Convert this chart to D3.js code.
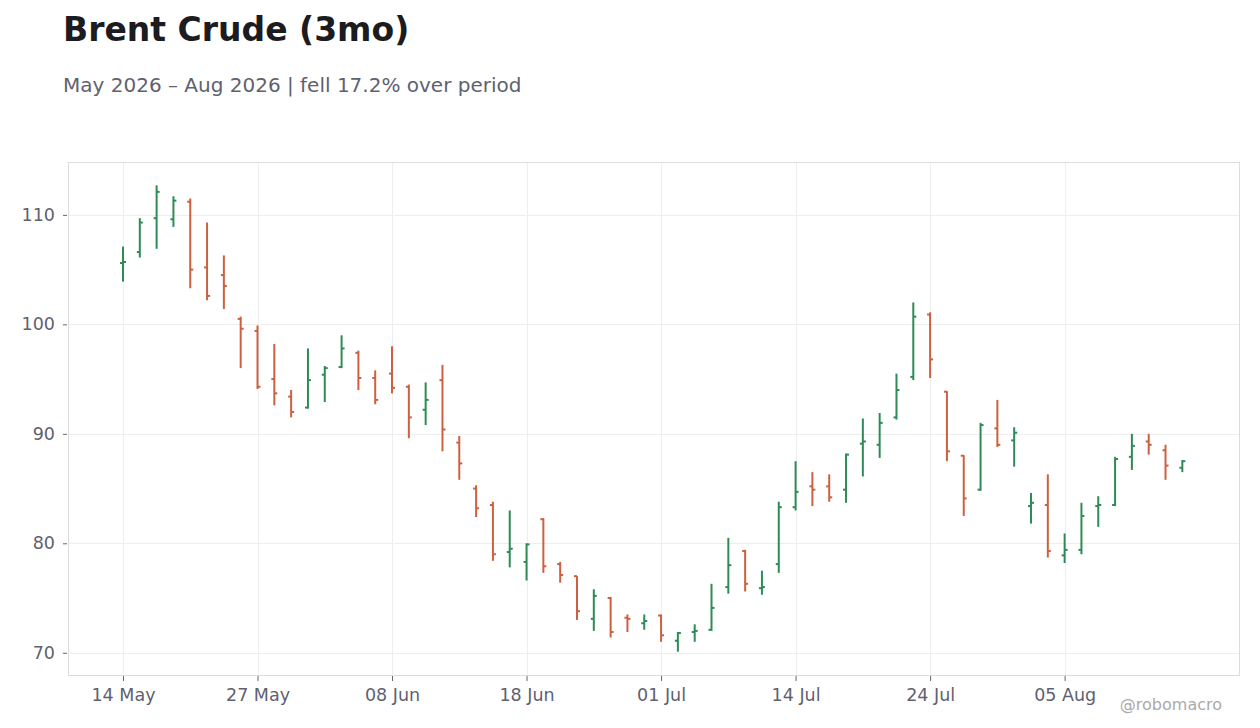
<!DOCTYPE html>
<meta charset="utf-8">
<script src="https://d3js.org/d3.v7.min.js"></script>
<style>
  body { margin: 0; background: #fff; }
  svg text { font-family: "DejaVu Sans", sans-serif; }
</style>
<div id="my_dataviz"></div>
<script>

// trading days (US holidays skipped)
var dates = [
  "2026-05-14","2026-05-15","2026-05-18","2026-05-19","2026-05-20","2026-05-21","2026-05-22","2026-05-26",
  "2026-05-27","2026-05-28","2026-05-29","2026-06-01","2026-06-02","2026-06-03","2026-06-04","2026-06-05",
  "2026-06-08","2026-06-09","2026-06-10","2026-06-11","2026-06-12","2026-06-15","2026-06-16","2026-06-17",
  "2026-06-18","2026-06-22","2026-06-23","2026-06-24","2026-06-25","2026-06-26","2026-06-29","2026-06-30",
  "2026-07-01","2026-07-02","2026-07-06","2026-07-07","2026-07-08","2026-07-09","2026-07-10","2026-07-13",
  "2026-07-14","2026-07-15","2026-07-16","2026-07-17","2026-07-20","2026-07-21","2026-07-22","2026-07-23",
  "2026-07-24","2026-07-27","2026-07-28","2026-07-29","2026-07-30","2026-07-31","2026-08-03","2026-08-04",
  "2026-08-05","2026-08-06","2026-08-07","2026-08-10","2026-08-11","2026-08-12","2026-08-13","2026-08-14"
]

var open = [
  105.6,106.6,109.7,109.6,111.2,105.2,104.5,100.5, 99.4, 95.0, 93.4, 92.4, 95.4, 96.1, 97.4, 95.1,
   95.5, 94.3, 92.2, 94.9, 89.2, 85.0, 83.5, 79.2, 78.3, 82.2, 78.1, 77.0, 73.1, 75.0, 73.2, 72.7,
   73.4, 71.1, 71.9, 72.1, 76.0, 79.3, 75.9, 78.1, 83.3, 85.2, 85.2, 84.9, 89.1, 89.0, 91.5, 95.2,
  100.9, 93.85,88.0, 84.9, 90.5, 89.4, 83.4, 83.5, 78.9, 79.4, 83.4, 83.5, 87.9, 89.3, 88.5, 86.9
]
var high = [
  107.1,109.7,112.7,111.7,111.5,109.3,106.3,100.7, 99.9, 98.2, 94.0, 97.8, 96.2, 99.0, 97.6, 95.8,
   98.0, 94.5, 94.7, 96.3, 89.8, 85.3, 83.8, 83.0, 80.0, 82.3, 78.3, 77.0, 75.8, 75.1, 73.5, 73.5,
   73.5, 71.9, 72.6, 76.3, 80.5, 79.4, 77.5, 83.8, 87.5, 86.5, 86.3, 88.2, 91.4, 91.9, 95.5,102.0,
  101.1, 93.9, 88.05,91.0, 93.1, 90.6, 84.6, 86.3, 80.9, 83.7, 84.3, 87.9, 90.0, 90.0, 89.0, 87.6
]
var low = [
  103.9,106.1,106.9,108.9,103.3,102.2,101.4, 96.0, 94.1, 92.6, 91.5, 92.3, 92.9, 96.0, 94.0, 92.7,
   93.7, 89.6, 90.8, 88.4, 85.8, 82.4, 78.4, 77.8, 76.6, 77.3, 76.4, 73.0, 72.0, 71.4, 71.9, 72.1,
   71.0, 70.1, 71.0, 72.0, 75.4, 75.6, 75.3, 77.3, 83.0, 83.4, 83.8, 83.7, 86.1, 87.8, 91.3, 94.9,
   95.1, 87.5, 82.5, 84.8, 88.8, 87.0, 81.8, 78.7, 78.2, 79.0, 81.5, 83.4, 86.7, 88.1, 85.8, 86.5
]
var close = [
  105.7,109.3,112.1,111.3,105.0,102.6,103.5, 99.6, 94.3, 93.7, 92.0, 94.9, 96.0, 97.8, 95.1, 93.1,
   94.2, 91.5, 93.1, 90.4, 87.3, 83.2, 79.0, 79.5, 79.9, 77.9, 77.1, 73.8, 75.2, 71.9, 73.1, 72.9,
   71.6, 71.8, 72.0, 74.1, 78.0, 76.3, 76.0, 83.3, 84.7, 84.9, 84.2, 88.1, 89.3, 91.0, 94.0,100.7,
   96.8, 88.4, 84.1, 90.8, 89.0, 90.1, 83.7, 79.3, 79.4, 82.5, 83.5, 87.7, 88.9, 89.0, 87.1, 87.5
]

var yTicks = [70, 80, 90, 100, 110]
var xTickEvery = 8

var title = "Brent Crude (3mo)"
var subtitle = "May 2026 – Aug 2026 | fell 17.2% over period"
var credit = "@robomacro"

var upColor = "#2e8b57",
    downColor = "#cc6040"

var W = 1260, H = 728
var margin = {top: 162, right: 21, bottom: 53, left: 68},
    width = W - margin.left - margin.right,
    height = H - margin.top - margin.bottom;

var parseDate = d3.timeParse("%Y-%m-%d")
var fmt = d3.timeFormat("%d %b")

var data = dates.map(function(d, i) {
  return {i: i, date: parseDate(d), o: open[i], h: high[i], l: low[i], c: close[i]}
})

var svg = d3.select("#my_dataviz")
  .append("svg")
  .attr("width", W)
  .attr("height", H)

// titles
svg.append("text")
  .attr("x", 63).attr("y", 41)
  .attr("font-size", "33px")
  .attr("font-weight", "bold")
  .attr("fill", "#1b1b20")
  .text(title)

svg.append("text")
  .attr("x", 63).attr("y", 92)
  .attr("font-size", "20px")
  .attr("fill", "#5f6170")
  .text(subtitle)

var g = svg.append("g")
  .attr("transform", "translate(" + margin.left + "," + margin.top + ")")

// x on trading-day index, y padded 5% around the range
var x = d3.scaleLinear()
  .domain([-3.27, data.length - 1 + 3.37])
  .range([0, width])

var lo = d3.min(low), hi = d3.max(high), pad = (hi - lo) * 0.05
var y = d3.scaleLinear()
  .domain([lo - pad, hi + pad])
  .range([height, 0])

var xTickIdx = d3.range(0, data.length, xTickEvery)

// grid
g.append("g").selectAll("line.h")
  .data(yTicks)
  .enter().append("line")
    .attr("x1", 0).attr("x2", width)
    .attr("y1", function(d) { return Math.round(y(d)) + 0.5 })
    .attr("y2", function(d) { return Math.round(y(d)) + 0.5 })
    .attr("stroke", "#eeeeee")

g.append("g").selectAll("line.v")
  .data(xTickIdx)
  .enter().append("line")
    .attr("y1", 0).attr("y2", height)
    .attr("x1", function(d) { return Math.round(x(d)) + 0.5 })
    .attr("x2", function(d) { return Math.round(x(d)) + 0.5 })
    .attr("stroke", "#eeeeee")

// frame
g.append("rect")
  .attr("x", 0.5).attr("y", 0.5)
  .attr("width", width).attr("height", height)
  .attr("fill", "none")
  .attr("stroke", "#dcdce0")

// axes
var yAxis = g.append("g")
  .attr("transform", "translate(-1,0)")
  .call(d3.axisLeft(y).tickValues(yTicks).tickSize(4).tickPadding(8))
yAxis.select(".domain").remove()
yAxis.selectAll("line").attr("stroke", "#666")
yAxis.selectAll("text")
  .attr("font-size", "17.5px")
  .attr("fill", "#5f6170")

var xAxis = g.append("g")
  .attr("transform", "translate(0," + (height + 1) + ")")
  .call(d3.axisBottom(x)
    .tickValues(xTickIdx)
    .tickSize(5)
    .tickPadding(8)
    .tickFormat(function(i) { return fmt(data[i].date) }))
xAxis.select(".domain").remove()
xAxis.selectAll("line").attr("stroke", "#666")
xAxis.selectAll("text")
  .attr("font-size", "17.5px")
  .attr("fill", "#5f6170")

// OHLC bars
var tick = 3
var bars = g.append("g").selectAll("g.bar")
  .data(data)
  .enter().append("g")
    .attr("stroke", function(d) { return d.c >= d.o ? upColor : downColor })
    .attr("stroke-width", 2)

bars.append("line")
  .attr("x1", function(d) { return x(d.i) }).attr("x2", function(d) { return x(d.i) })
  .attr("y1", function(d) { return y(d.h) }).attr("y2", function(d) { return y(d.l) })

bars.append("line")
  .attr("x1", function(d) { return x(d.i) - tick }).attr("x2", function(d) { return x(d.i) })
  .attr("y1", function(d) { return y(d.o) }).attr("y2", function(d) { return y(d.o) })

bars.append("line")
  .attr("x1", function(d) { return x(d.i) }).attr("x2", function(d) { return x(d.i) + tick })
  .attr("y1", function(d) { return y(d.c) }).attr("y2", function(d) { return y(d.c) })

// credit
svg.append("text")
  .attr("x", 1222).attr("y", 710)
  .attr("text-anchor", "end")
  .attr("font-size", "16px")
  .attr("fill", "#aaaaaa")
  .text(credit)

</script>
